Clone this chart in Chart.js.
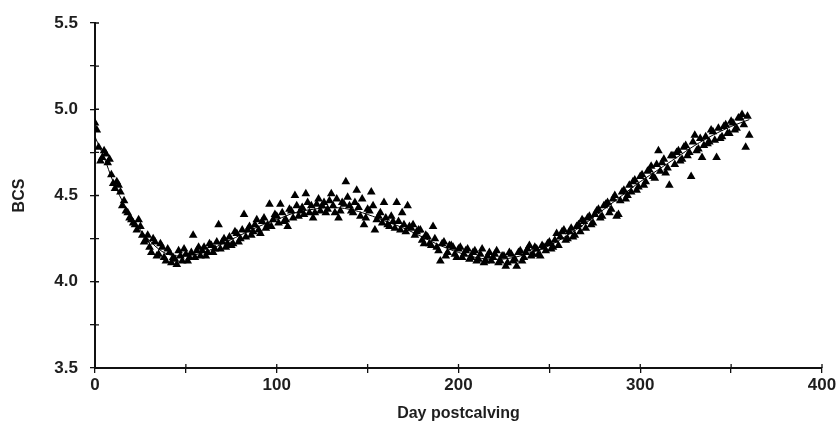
<!DOCTYPE html>
<html>
<head>
<meta charset="utf-8">
<script src="https://cdn.jsdelivr.net/npm/chart.js@4.4.1/dist/chart.umd.min.js"></script>
<style>
  html, body { margin: 0; padding: 0; background: #fff; }
  #wrap { width: 840px; height: 427px; }
</style>
</head>
<body>
<div id="wrap"><canvas id="bcsChart"></canvas></div>
<script>
// observações em dias pares
const obsDays = [
  0,2,4,6,8,10,12,14,16,18,20,22,24,26,28,30,32,34,36,38,
  40,42,44,46,48,50,52,54,56,58,60,62,64,66,68,70,72,74,76,78,
  80,82,84,86,88,90,92,94,96,98,100,102,104,106,108,110,112,114,116,118,
  120,122,124,126,128,130,132,134,136,138,140,142,144,146,148,150,152,154,156,158,
  160,162,164,166,168,170,172,174,176,178,180,182,184,186,188,190,192,194,196,198,
  200,202,204,206,208,210,212,214,216,218,220,222,224,226,228,230,232,234,236,238,
  240,242,244,246,248,250,252,254,256,258,260,262,264,266,268,270,272,274,276,278,
  280,282,284,286,288,290,292,294,296,298,300,302,304,306,308,310,312,314,316,318,
  320,322,324,326,328,330,332,334,336,338,340,342,344,346,348,350,352,354,356,358,
  360
];
const obsBCS = [
  4.92,4.78,4.72,4.74,4.71,4.57,4.58,4.52,4.47,4.40,4.36,4.33,4.36,4.27,4.24,4.20,4.25,4.15,4.22,4.14,
  4.19,4.11,4.13,4.18,4.12,4.16,4.14,4.27,4.18,4.15,4.20,4.17,4.21,4.19,4.33,4.23,4.20,4.26,4.22,4.28,
  4.25,4.39,4.30,4.27,4.33,4.30,4.35,4.31,4.45,4.36,4.38,4.45,4.35,4.32,4.41,4.50,4.38,4.43,4.51,4.40,
  4.37,4.45,4.41,4.46,4.42,4.51,4.40,4.37,4.46,4.58,4.44,4.40,4.53,4.38,4.33,4.42,4.52,4.30,4.38,4.34,
  4.37,4.32,4.35,4.46,4.30,4.33,4.44,4.31,4.27,4.30,4.24,4.27,4.22,4.32,4.20,4.12,4.23,4.17,4.21,4.16,
  4.19,4.14,4.18,4.13,4.17,4.12,4.16,4.11,4.15,4.12,4.16,4.11,4.15,4.09,4.17,4.12,4.09,4.18,4.14,4.19,
  4.15,4.20,4.16,4.21,4.18,4.23,4.20,4.28,4.26,4.30,4.25,4.31,4.27,4.33,4.36,4.31,4.38,4.34,4.41,4.37,
  4.44,4.46,4.42,4.50,4.39,4.52,4.48,4.56,4.58,4.53,4.61,4.56,4.64,4.67,4.60,4.76,4.69,4.63,4.56,4.73,
  4.75,4.70,4.78,4.73,4.61,4.85,4.77,4.72,4.84,4.81,4.87,4.72,4.83,4.90,4.86,4.93,4.88,4.95,4.97,4.78,
  4.85
];

// observações em dias ímpares
const obsDaysOdd = [
  1,3,5,7,9,11,13,15,17,19,21,23,25,27,29,31,33,35,37,39,
  41,43,45,47,49,51,53,55,57,59,61,63,65,67,69,71,73,75,77,79,
  81,83,85,87,89,91,93,95,97,99,101,103,105,107,109,111,113,115,117,119,
  121,123,125,127,129,131,133,135,137,139,141,143,145,147,149,151,153,155,157,159,
  161,163,165,167,169,171,173,175,177,179,181,183,185,187,189,191,193,195,197,199,
  201,203,205,207,209,211,213,215,217,219,221,223,225,227,229,231,233,235,237,239,
  241,243,245,247,249,251,253,255,257,259,261,263,265,267,269,271,273,275,277,279,
  281,283,285,287,289,291,293,295,297,299,301,303,305,307,309,311,313,315,317,319,
  321,323,325,327,329,331,333,335,337,339,341,343,345,347,349,351,353,355,357,359
];
const obsBCSOdd = [
  4.88,4.70,4.76,4.69,4.62,4.54,4.56,4.44,4.41,4.37,4.34,4.30,4.32,4.23,4.27,4.17,4.23,4.16,4.20,4.12,
  4.17,4.14,4.10,4.15,4.19,4.12,4.17,4.14,4.20,4.18,4.15,4.22,4.17,4.23,4.19,4.25,4.22,4.21,4.29,4.23,
  4.30,4.26,4.32,4.29,4.36,4.28,4.37,4.33,4.32,4.39,4.34,4.40,4.36,4.42,4.37,4.44,4.41,4.39,4.46,4.44,
  4.40,4.48,4.44,4.40,4.47,4.44,4.48,4.41,4.45,4.49,4.41,4.46,4.43,4.48,4.37,4.41,4.44,4.36,4.40,4.46,
  4.33,4.38,4.31,4.35,4.40,4.29,4.32,4.33,4.29,4.30,4.22,4.26,4.21,4.25,4.18,4.22,4.15,4.21,4.20,4.14,
  4.20,4.16,4.19,4.14,4.18,4.13,4.19,4.12,4.17,4.14,4.18,4.12,4.15,4.11,4.16,4.13,4.17,4.12,4.17,4.21,
  4.16,4.19,4.15,4.20,4.22,4.19,4.24,4.21,4.29,4.24,4.29,4.26,4.32,4.29,4.35,4.37,4.33,4.39,4.42,4.38,
  4.45,4.40,4.48,4.38,4.47,4.53,4.50,4.52,4.59,4.55,4.62,4.58,4.65,4.61,4.68,4.64,4.71,4.66,4.73,4.68,
  4.76,4.71,4.79,4.75,4.81,4.76,4.83,4.79,4.80,4.88,4.82,4.89,4.84,4.91,4.86,4.92,4.89,4.95,4.91,4.96
];

// curva ajustada
const fitDays = [0,5,10,15,20,25,30,35,40,45,50,60,70,80,90,100,110,120,130,140,150,160,170,180,190,200,210,220,230,240,250,260,270,280,290,300,310,320,330,340,350,360];
const fitBCS  = [4.84,4.72,4.58,4.47,4.38,4.30,4.24,4.19,4.16,4.15,4.15,4.17,4.22,4.27,4.32,4.36,4.40,4.42,4.43,4.42,4.39,4.35,4.31,4.26,4.21,4.17,4.14,4.13,4.14,4.17,4.21,4.27,4.34,4.42,4.50,4.58,4.65,4.72,4.79,4.85,4.90,4.94];

const xTicksMajor = [0, 100, 200, 300, 400];
const yTicksMajor = [3.5, 4.0, 4.5, 5.0, 5.5];

const fontFam = 'Liberation Sans, Arial, sans-serif';
const tickFont = { family: fontFam, size: 17, weight: 'bold' };
const txtColor = '#1e1e1e';

// marcas de tick cruzando o eixo (parte interna)
const innerTicks = {
  id: 'innerTicks',
  afterDraw(chart) {
    const ctx = chart.ctx;
    const xs = chart.scales.x, ys = chart.scales.y;
    ctx.save();
    ctx.strokeStyle = '#111';
    ctx.lineWidth = 1.3;
    ctx.beginPath();
    xs.ticks.forEach(t => {
      const px = xs.getPixelForValue(t.value);
      ctx.moveTo(px, ys.bottom);
      ctx.lineTo(px, ys.bottom - 4);
    });
    ys.ticks.forEach(t => {
      const py = ys.getPixelForValue(t.value);
      ctx.moveTo(xs.left, py);
      ctx.lineTo(xs.left + 4, py);
    });
    ctx.stroke();
    ctx.restore();
  }
};

const toPts = (xs, ys) => xs.map((d, i) => ({ x: d, y: ys[i] }));

const ctx = document.getElementById('bcsChart').getContext('2d');
new Chart(ctx, {
  type: 'scatter',
  data: {
    datasets: [
      {
        type: 'line',
        label: 'Ajuste',
        data: toPts(fitDays, fitBCS),
        borderColor: '#000',
        borderWidth: 1,
        pointRadius: 0,
        tension: 0.4,
        fill: false,
        order: 0
      },
      {
        label: 'BCS',
        data: toPts(obsDays, obsBCS),
        pointStyle: 'triangle',
        pointRadius: 5,
        backgroundColor: '#000',
        borderColor: '#000',
        borderWidth: 0,
        order: 1
      },
      {
        label: 'BCS (ímpar)',
        data: toPts(obsDaysOdd, obsBCSOdd),
        pointStyle: 'triangle',
        pointRadius: 5,
        backgroundColor: '#000',
        borderColor: '#000',
        borderWidth: 0,
        order: 1
      }
    ]
  },
  options: {
    responsive: true,
    maintainAspectRatio: false,
    animation: false,
    layout: { padding: { top: 23, right: 18, left: 0, bottom: 0 } },
    plugins: { legend: { display: false }, tooltip: { enabled: false } },
    scales: {
      x: {
        type: 'linear',
        min: 0, max: 400,
        afterFit(scale) { scale.height = 59; },
        ticks: {
          stepSize: 50,
          autoSkip: false,
          maxRotation: 0,
          color: txtColor,
          font: tickFont,
          padding: 2,
          callback: v => xTicksMajor.includes(v) ? String(v) : ''
        },
        grid: { drawOnChartArea: false, drawTicks: true, tickLength: 5, color: '#111', lineWidth: 1.3 },
        border: { display: true, color: '#111', width: 2 },
        title: {
          display: true,
          text: 'Day postcalving',
          color: txtColor,
          font: { family: fontFam, size: 16, weight: 'bold' },
          padding: { top: 1 }
        }
      },
      y: {
        min: 3.5, max: 5.5,
        afterFit(scale) { scale.width = 95; },
        ticks: {
          stepSize: 0.25,
          autoSkip: false,
          color: txtColor,
          font: tickFont,
          padding: 12,
          callback: v => yTicksMajor.some(m => Math.abs(m - v) < 1e-6) ? v.toFixed(1) : ''
        },
        grid: { drawOnChartArea: false, drawTicks: true, tickLength: 5, color: '#111', lineWidth: 1.3 },
        border: { display: true, color: '#111', width: 2 },
        title: {
          display: true,
          text: 'BCS',
          color: txtColor,
          font: { family: fontFam, size: 16, weight: 'bold' },
          padding: { top: 10, bottom: 0 }
        }
      }
    }
  },
  plugins: [innerTicks]
});
</script>
</body>
</html>
